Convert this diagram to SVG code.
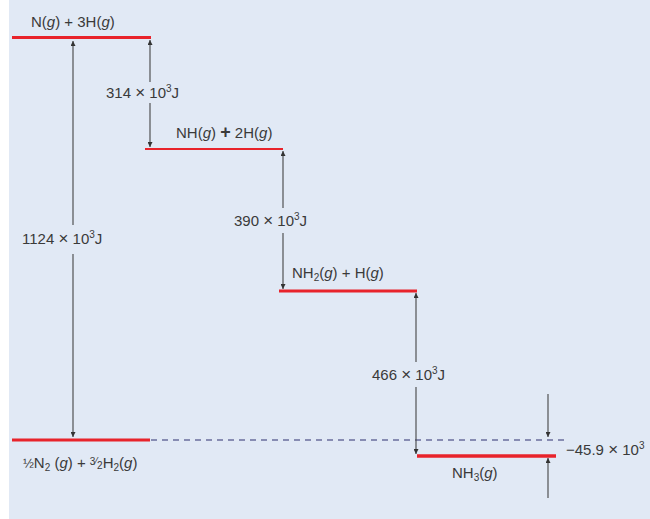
<svg xmlns="http://www.w3.org/2000/svg" width="650" height="519" viewBox="0 0 650 519">
<defs>
<marker id="ah" viewBox="0 0 8 8" refX="8" refY="4" markerWidth="7" markerHeight="5" markerUnits="userSpaceOnUse" orient="auto">
<path d="M0,0 L8,4 L0,8 z" fill="#333"/>
</marker>
<style>
.lvl{stroke:#e8232b;stroke-width:3;fill:none}
.arr{stroke:#444;stroke-width:1.1;fill:none;marker-end:url(#ah)}
.dash{stroke:#6a6e9c;stroke-width:1.6;stroke-dasharray:6,5;fill:none}
text{font-family:"Liberation Sans",Arial,sans-serif;font-size:15px;fill:#3a3a3a}
.sm{font-size:10px}
.i{font-style:italic}
.x{font-size:17px}
</style>
</defs>
<rect x="0" y="0" width="650" height="519" fill="#ffffff"/>
<rect x="9" y="0" width="641" height="519" fill="#e1e9f5"/>

<g id="connectors">
<path class="dash" d="M151,440 H564"/>
<path class="arr" d="M73,225 V41"/>
<path class="arr" d="M73,254 V437"/>
<path class="arr" d="M150,82 V40"/>
<path class="arr" d="M150,103 V147"/>
<path class="arr" d="M283,208 V151"/>
<path class="arr" d="M283,233 V289"/>
<path class="arr" d="M416,362 V293"/>
<path class="arr" d="M416,387 V454"/>
<path class="arr" d="M548,394 V437"/>
<path class="arr" d="M548,498 V458"/>
</g>

<g id="level-N-3H">
<path class="lvl" d="M12,37.5 H151"/>
<text x="31" y="27">N(<tspan class="i">g</tspan>) + 3H(<tspan class="i">g</tspan>)</text>
</g>
<g id="level-NH-2H">
<path class="lvl" d="M145,149 H283" style="stroke-width:2.2"/>
<text x="176" y="138">NH(<tspan class="i">g</tspan>) <tspan font-weight="bold" font-size="18">+</tspan> 2H(<tspan class="i">g</tspan>)</text>
</g>
<g id="level-NH2-H">
<path class="lvl" d="M279,291 H417"/>
<text x="292" y="278">NH<tspan class="sm" dy="3">2</tspan><tspan dy="-3">(</tspan><tspan class="i">g</tspan>) + H(<tspan class="i">g</tspan>)</text>
</g>
<g id="level-NH3">
<path class="lvl" d="M417,456 H556" style="stroke-width:3.5"/>
<text x="452" y="478">NH<tspan class="sm" dy="3">3</tspan><tspan dy="-3">(</tspan><tspan class="i">g</tspan>)</text>
</g>
<g id="level-elements">
<path class="lvl" d="M12,440 H150"/>
<text x="23" y="468"><tspan font-size="13">½</tspan>N<tspan class="sm" dy="3">2</tspan><tspan dy="-3"> (</tspan><tspan class="i">g</tspan>) + <tspan class="sm" dy="-3">3</tspan><tspan class="sm" dy="0">⁄</tspan><tspan class="sm" dy="4">2</tspan><tspan dy="-1">H</tspan><tspan class="sm" dy="3">2</tspan><tspan dy="-3">(</tspan><tspan class="i">g</tspan>)</text>
</g>

<g id="labels">
<text x="106" y="98">314 <tspan class="x">×</tspan> 10<tspan class="sm" dy="-6">3</tspan><tspan dy="6">J</tspan></text>
<text x="234" y="226">390 <tspan class="x">×</tspan> 10<tspan class="sm" dy="-6">3</tspan><tspan dy="6">J</tspan></text>
<text x="22" y="244">1124 <tspan class="x">×</tspan> 10<tspan class="sm" dy="-6">3</tspan><tspan dy="6">J</tspan></text>
<text x="372" y="380">466 <tspan class="x">×</tspan> 10<tspan class="sm" dy="-6">3</tspan><tspan dy="6">J</tspan></text>
<text x="566" y="455">−45.9 <tspan class="x">×</tspan> 10<tspan class="sm" dy="-6">3</tspan></text>
</g>
</svg>
